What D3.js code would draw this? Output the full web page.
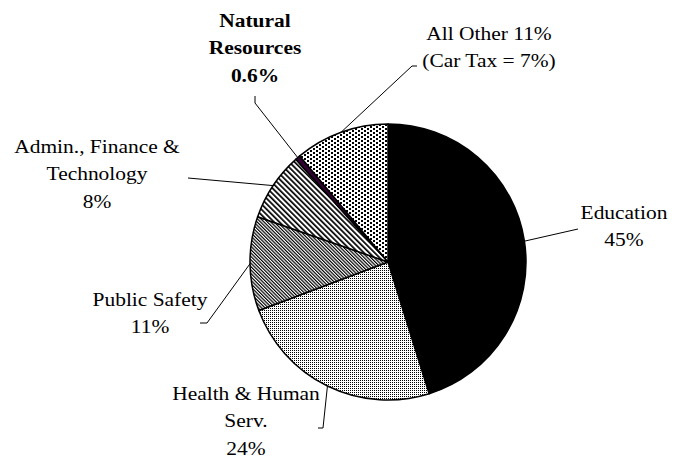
<!DOCTYPE html>
<html>
<head>
<meta charset="utf-8">
<script src="https://cdn.jsdelivr.net/npm/d3@7"></script>
<style>
  body { margin: 0; background: #fff; }
  text { font-family: "Liberation Serif", "Times New Roman", serif; font-size: 19.5px; fill: #000; }
</style>
</head>
<body>
<div id="chart"></div>
<script>
// slices, clockwise from 12 o'clock
var categories = ['Education', 'Health & Human Serv.', 'Public Safety', 'Admin., Finance & Technology', 'Natural Resources', 'All Other'];
var shares = [45, 24, 11, 8, 0.6, 11];
var fills = ['#000', 'url(#dotsLight)', 'url(#hatchFine)', 'url(#hatchWide)', '#330033', 'url(#dotsGrid)'];

// label lines, anchor and elbow for each leader
var labelLines = [
  ['Education', '45%'],
  ['Health & Human', 'Serv.', '24%'],
  ['Public Safety', '11%'],
  ['Admin., Finance &', 'Technology', '8%'],
  ['Natural', 'Resources', '0.6%'],
  ['All Other 11%', '(Car Tax = 7%)']
];
var labelPos = [[624, 219], [246, 400], [150, 306], [97, 153], [255, 27], [489, 40]];
var leaderStart = [[578, 229], [318, 428], [200, 323], [188, 178], [255, 96], [417, 66]];
var leaderElbow = [null, [323, 428], [207, 323], null, [255, 103], [412, 66]];

var width = 676, height = 465;
var cx = 388, cy = 262, radius = 138;

var svg = d3.select('#chart').append('svg')
  .attr('width', width).attr('height', height);

var defs = svg.append('defs');

var p = defs.append('pattern').attr('id', 'dotsLight')
  .attr('patternUnits', 'userSpaceOnUse').attr('width', 2).attr('height', 2);
p.append('rect').attr('width', 2).attr('height', 2).attr('fill', '#fff');
p.append('rect').attr('width', 1).attr('height', 1).attr('fill', '#000');

p = defs.append('pattern').attr('id', 'dotsGrid')
  .attr('patternUnits', 'userSpaceOnUse').attr('width', 6).attr('height', 4);
p.append('rect').attr('width', 6).attr('height', 4).attr('fill', '#fff');
p.append('rect').attr('width', 2).attr('height', 2).attr('fill', '#000');
p.append('rect').attr('x', 3).attr('y', 2).attr('width', 2).attr('height', 2).attr('fill', '#000');

p = defs.append('pattern').attr('id', 'hatchWide')
  .attr('patternUnits', 'userSpaceOnUse').attr('width', 3.8).attr('height', 10)
  .attr('patternTransform', 'rotate(-45)');
p.append('rect').attr('width', 3.8).attr('height', 10).attr('fill', '#fff');
p.append('rect').attr('width', 1.7).attr('height', 10).attr('fill', '#000');

p = defs.append('pattern').attr('id', 'hatchFine')
  .attr('patternUnits', 'userSpaceOnUse').attr('width', 2.4).attr('height', 10)
  .attr('patternTransform', 'rotate(-45)');
p.append('rect').attr('width', 2.4).attr('height', 10).attr('fill', '#fff');
p.append('rect').attr('width', 1.2).attr('height', 10).attr('fill', '#000');

var pie = d3.pie().sort(null).value(function (d) { return d; });
var arcs = pie(shares);
var arc = d3.arc().innerRadius(0).outerRadius(radius);

var g = svg.append('g').attr('transform', 'translate(' + cx + ',' + cy + ')');
g.selectAll('path')
  .data(arcs)
  .enter().append('path')
  .attr('d', arc)
  .attr('fill', function (d, i) { return fills[i]; })
  .attr('stroke', '#000')
  .attr('stroke-width', 1.5)
  .attr('stroke-linejoin', 'round');

// leader lines to the middle of each slice edge
arcs.forEach(function (d, i) {
  var mid = (d.startAngle + d.endAngle) / 2;
  var ex = cx + radius * Math.sin(mid), ey = cy - radius * Math.cos(mid);
  var pts = [leaderStart[i]];
  if (leaderElbow[i]) pts.push(leaderElbow[i]);
  pts.push([ex, ey]);
  svg.append('path')
    .attr('d', d3.line()(pts))
    .attr('fill', 'none')
    .attr('stroke', '#000')
    .attr('stroke-width', 1);
});

labelLines.forEach(function (lines, i) {
  var t = svg.append('g')
    .attr('transform', 'translate(' + labelPos[i][0] + ',' + labelPos[i][1] + ') scale(1.1,1)');
  lines.forEach(function (s, j) {
    t.append('text')
      .attr('x', 0).attr('y', j * 27.5)
      .attr('text-anchor', 'middle')
      .attr('font-weight', categories[i] === 'Natural Resources' ? 'bold' : null)
      .text(s);
  });
});
</script>
</body>
</html>
